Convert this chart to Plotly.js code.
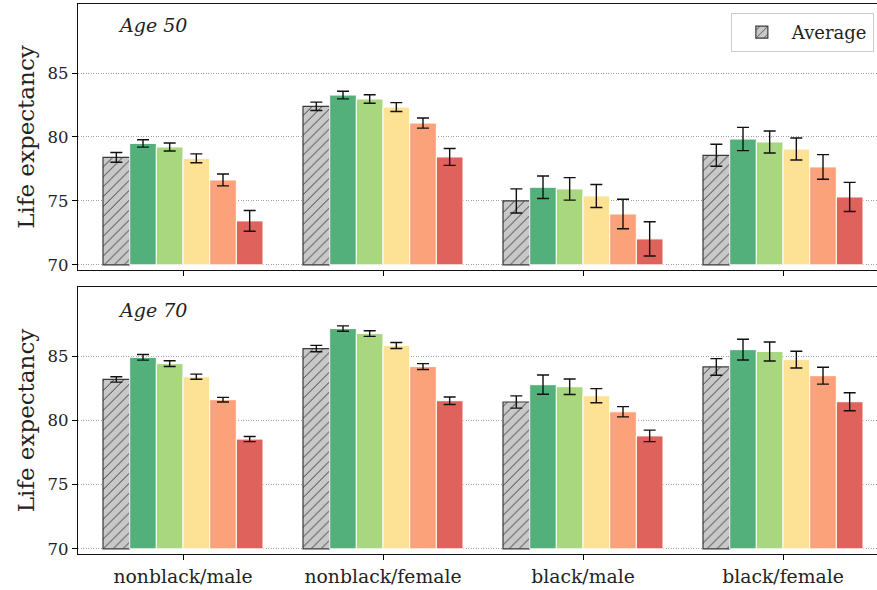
<!DOCTYPE html>
<html>
<head>
<meta charset="utf-8">
<script src="https://cdn.plot.ly/plotly-3.0.1.min.js"></script>
<style>
html,body{margin:0;padding:0;overflow:hidden;background:#fff;}
#chart{width:900px;height:590px;}
</style>
</head>
<body>
<div id="chart"></div>
<script>
// ---- data ----
const categories = ['nonblack/male', 'nonblack/female', 'black/male', 'black/female'];
const seriesNames = ['Average', 'Group 1', 'Group 2', 'Group 3', 'Group 4', 'Group 5'];
const tickValues = [70, 75, 80, 85];
const panelLabels = ['Age 50', 'Age 70'];

// Age 50
const avg50 = [78.41, 82.40, 75.00, 78.57];
const avg50Err = [0.38, 0.33, 0.94, 0.86];
const g1_50 = [79.50, 83.28, 76.07, 79.84];
const g1_50Err = [0.29, 0.30, 0.88, 0.91];
const g2_50 = [79.22, 82.97, 75.94, 79.61];
const g2_50Err = [0.31, 0.33, 0.88, 0.86];
const g3_50 = [78.33, 82.34, 75.39, 79.06];
const g3_50Err = [0.35, 0.35, 0.90, 0.86];
const g4_50 = [76.64, 81.09, 73.98, 77.66];
const g4_50Err = [0.46, 0.40, 1.15, 0.96];
const g5_50 = [73.44, 78.44, 72.03, 75.31];
const g5_50Err = [0.81, 0.66, 1.34, 1.14];

// Age 70
const avg70 = [83.20, 85.60, 81.44, 84.17];
const avg70Err = [0.21, 0.25, 0.48, 0.65];
const g1_70 = [84.92, 87.16, 82.79, 85.52];
const g1_70Err = [0.22, 0.21, 0.75, 0.81];
const g2_70 = [84.43, 86.77, 82.63, 85.37];
const g2_70Err = [0.22, 0.22, 0.60, 0.74];
const g3_70 = [83.41, 85.84, 81.93, 84.74];
const g3_70Err = [0.20, 0.23, 0.55, 0.65];
const g4_70 = [81.62, 84.20, 80.68, 83.49];
const g4_70Err = [0.18, 0.23, 0.40, 0.66];
const g5_70 = [78.55, 81.54, 78.80, 81.46];
const g5_70Err = [0.20, 0.29, 0.45, 0.70];

const BASE = 70;
const colors = ['#c8c8c8', '#53b07b', '#a8d77f', '#fde194', '#fba27a', '#e0625c'];
const FONT = 'DejaVu Serif';

const panel50 = [[avg50, avg50Err], [g1_50, g1_50Err], [g2_50, g2_50Err], [g3_50, g3_50Err], [g4_50, g4_50Err], [g5_50, g5_50Err]];
const panel70 = [[avg70, avg70Err], [g1_70, g1_70Err], [g2_70, g2_70Err], [g3_70, g3_70Err], [g4_70, g4_70Err], [g5_70, g5_70Err]];

function makeTraces(panel, xa, ya, legend) {
  return panel.map(([vals, errs], i) => {
    const isAvg = i === 0;
    const t = {
      type: 'bar',
      name: seriesNames[i],
      x: categories,
      y: vals.map(v => v - BASE),
      base: BASE,
      customdata: vals,
      hovertemplate: '%{customdata}<extra>' + seriesNames[i] + '</extra>',
      xaxis: xa, yaxis: ya,
      showlegend: legend && isAvg,
      legendgroup: seriesNames[i],
      marker: {
        color: colors[i],
        line: isAvg ? {color: '#3a3a3a', width: 1.2} : {color: '#ffffff', width: 1}
      },
      error_y: {type: 'data', array: errs, visible: true, color: '#111111', thickness: 1.4, width: 6}
    };
    if (isAvg) {
      t.marker.pattern = {shape: '/', fgcolor: '#3a3a3a', bgcolor: '#c8c8c8', size: 7, solidity: 0.14};
    }
    return t;
  });
}

const data = [...makeTraces(panel50, 'x', 'y', true), ...makeTraces(panel70, 'x2', 'y2', false)];

const yCommon = {
  range: [69.6, 90.4],
  tickvals: tickValues,
  ticks: 'outside', ticklen: 5, tickwidth: 1, tickcolor: '#000',
  tickfont: {family: FONT, size: 16.5, color: '#222'},
  showgrid: true, gridcolor: '#a0a0a0', griddash: '1px,1.5px', gridwidth: 1,
  zeroline: false,
  showline: true, linecolor: '#111', linewidth: 1.2, mirror: true,
  title: {text: 'Life expectancy', font: {family: FONT, size: 23, color: '#222'}, standoff: 6}
};
const xCommon = {
  range: [-0.525, 3.525],
  type: 'category',
  ticks: 'outside', ticklen: 5, tickwidth: 1, tickcolor: '#000',
  showgrid: false, zeroline: false,
  showline: true, linecolor: '#111', linewidth: 1.2, mirror: true,
  tickfont: {family: FONT, size: 18.8, color: '#222'}
};

const layout = {
  width: 900, height: 590,
  margin: {l: 78, r: 12, t: 4, b: 36},
  paper_bgcolor: '#fff', plot_bgcolor: '#fff',
  barmode: 'group', bargap: 0.2, bargroupgap: 0,
  font: {family: FONT, color: '#222'},
  showlegend: true,
  legend: {
    x: 0.806, y: 0.9836, xanchor: 'left', yanchor: 'top',
    bgcolor: '#ffffff', bordercolor: '#cccccc', borderwidth: 1,
    itemwidth: 50,
    font: {family: FONT, size: 18, color: '#222'}
  },
  xaxis: Object.assign({}, xCommon, {anchor: 'y', showticklabels: false}),
  yaxis: Object.assign({}, yCommon, {domain: [0.5164, 1], anchor: 'x'}),
  xaxis2: Object.assign({}, xCommon, {anchor: 'y2', matches: 'x'}),
  yaxis2: Object.assign({}, yCommon, {domain: [0, 0.4855], anchor: 'x2'}),
  annotations: [
    {text: panelLabels[0], xref: 'paper', yref: 'paper', x: 0.047, y: 0.9618, xanchor: 'left', yanchor: 'middle', showarrow: false, font: {family: FONT, size: 19, style: 'italic', color: '#222'}},
    {text: panelLabels[1], xref: 'paper', yref: 'paper', x: 0.047, y: 0.4436, xanchor: 'left', yanchor: 'middle', showarrow: false, font: {family: FONT, size: 19, style: 'italic', color: '#222'}}
  ]
};

Plotly.newPlot('chart', data, layout, {displayModeBar: false, staticPlot: true});
</script>
</body>
</html>
